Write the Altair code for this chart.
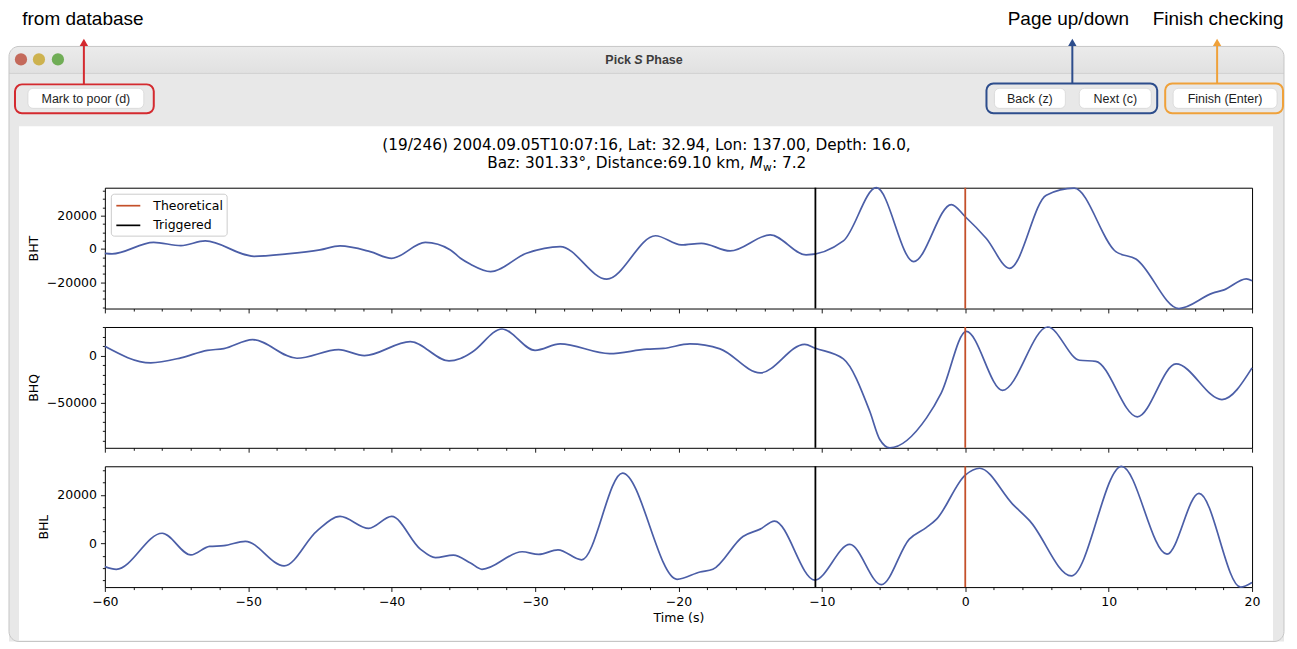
import altair as alt
import pandas as pd

# ---------------- data ----------------
BHT_T = [-60.0, -59.5, -56.6, -54.7, -53.0, -49.6, -47.3, -45.0, -43.6, -41.5, -40.0, -37.65, -35.9, -35.2,
         -34.5, -33.1, -30.6, -28.25, -25.0, -21.6, -19.8, -18.4, -16.4, -13.6, -11.1, -8.5, -6.2, -3.6,
         -0.97, 0.0, 1.47, 3.1, 5.65, 7.6, 10.5, 11.9, 14.9, 17.25, 18.05, 19.6, 20.0]
BHT_V = [-2600, -2900, 3900, 2000, 4800, -4400, -3000, -600, 1800, -1600, -5600, 3900, -600, -5600,
         -9200, -13600, -2600, 1400, -18100, 7900, 2400, 3400, -1200, 8400, -3600, 4800, 36700, -7600,
         26600, 19300, 6300, -11600, 32200, 36400, -1600, -6000, -35700, -26500, -24500, -17900, -19100]

BHQ_T = [-60.0, -56.8, -54.7, -52.85, -51.7, -49.7, -46.6, -43.7, -41.9, -38.7, -36.0, -35.2, -34.4,
         -32.3, -30.0, -28.25, -24.8, -22.2, -21.05, -19.2, -17.1, -14.3, -11.2, -10.45, -8.5, -6.66,
         -5.96, -5.26, -2.7, -1.67, 0.07, 2.6, 5.75, 7.97, 9.1, 12.0, 14.7, 17.9, 20.0]
BHQ_V = [9800, -7700, -2400, 5600, 7400, 16900, -2800, 6300, 0, 14800, -5600, -3000, 3500,
         28200, 5600, 12400, 2100, 6800, 7600, 12400, 7100, -18300, 12000, 7800, -3500, -58900,
         -88800, -97600, -65900, -39400, 25700, -36700, 30300, -4900, -6000, -64800, -8800, -46500, -13000]

BHL_T = [-60.0, -59.2, -56.0, -54.0, -52.7, -51.7, -50.2, -47.5, -45.2, -43.6, -41.6, -40.0, -38.0,
         -36.95, -35.7, -34.5, -33.7, -30.9, -29.75, -28.4, -26.75, -23.9, -20.1, -18.5, -17.6, -15.5,
         -14.3, -13.3, -10.5, -8.05, -5.85, -3.9, -2.7, -2.0, 0.0, 1.0, 3.3, 4.5, 7.4, 10.9, 14.07,
         16.3, 19.2, 20.0]
BHL_V = [-9500, -10600, 4200, -4700, -1200, -900, 900, -9200, 5200, 11100, 6200, 11100, -2300,
         -5800, -4800, -8000, -10600, -3400, -4500, -2600, -6700, 28900, -14700, -11700, -10600, 2900,
         5900, 9200, -15000, -400, -16900, 1800, 6600, 10000, 28100, 30900, 16200, 9300, -13300, 31700,
         -4400, 20600, -17900, -16000]

PICK_NAMES = ["Theoretical", "Triggered"]
PICK_TIMES = [0.0, -10.45]
X_TICKS = list(range(-60, 21, 2))

TITLE_1 = "(19/246) 2004.09.05T10:07:16, Lat: 32.94, Lon: 137.00, Depth: 16.0,"
TITLE_2 = "Baz: 301.33°, Distance:69.10 km,"

# ---------------- style ----------------
W, H = 1149, 121
HEAD_H = 159.5
OX, OY = 104, 8          # page position of the plot-area origin
BLUE = "#4b5ea7"
RED = "#c4502a"
FONT = "DejaVu Sans"
UI = "Liberation Sans"
ONE = alt.Data(values=[{"k": 0}])


def hx(p):
    return p - OX


def hy(p):
    return p - OY


def box(x1, y1, x2, y2, **mk):
    return alt.Chart(ONE).mark_rect(**mk).encode(
        x=alt.value(hx(x1)), x2=alt.value(hx(x2)), y=alt.value(hy(y1)), y2=alt.value(hy(y2)))


def txt(x, y, s, **mk):
    return alt.Chart(ONE).mark_text(text=s, **mk).encode(x=alt.value(hx(x)), y=alt.value(hy(y)))


def vline(x, y1, y2, color, width=2):
    return alt.Chart(ONE).mark_rule(color=color, strokeWidth=width).encode(
        x=alt.value(hx(x)), y=alt.value(hy(y1)), y2=alt.value(hy(y2)))


def hline(x1, x2, y, color, width=1):
    return alt.Chart(ONE).mark_rule(color=color, strokeWidth=width).encode(
        x=alt.value(hx(x1)), x2=alt.value(hx(x2)), y=alt.value(hy(y)))


def dot(x, y, color, size, shape="circle"):
    return alt.Chart(ONE).mark_point(filled=True, shape=shape, size=size, color=color, opacity=1).encode(
        x=alt.value(hx(x)), y=alt.value(hy(y)))


def button(x1, x2, label):
    return [box(x1, 87, x2, 107, color="white", stroke="#cfcfcf", strokeWidth=0.6, cornerRadius=5),
            txt((x1 + x2) / 2, 97.5, label, font=UI, fontSize=12.5, color="#1e1e1e")]


grad = alt.LinearGradient(gradient="linear", x1=0, x2=0, y1=0, y2=1,
                          stops=[alt.GradientStop(color="#ebebeb", offset=0),
                                 alt.GradientStop(color="#dadada", offset=1)])

header_layers = [
    box(8, 8, 1289, 641, color="white"),
    box(8, 45, 1285, 90, color=grad, cornerRadius=10),
    box(8, 72, 1285, 641, color="#e8e8e8"),
    hline(8, 1285, 72, "#d2d2d2", 1),
    box(18, 125, 1274, 640, color="white"),
    box(8, 45, 1285, 641, filled=False, color="#c6c6c6", strokeWidth=1, cornerRadius=10),
    dot(20, 58, "#c46a5b", 150),
    dot(38, 58, "#cdb24f", 150),
    dot(57, 58, "#70ad56", 150),
    txt(631, 58.5, "Pick", font=UI, fontSize=12.5, fontWeight="bold", align="right", color="#3c3c3c"),
    txt(638.5, 58.5, "S", font=UI, fontSize=12.5, fontWeight="bold", fontStyle="italic", color="#3c3c3c"),
    txt(646, 58.5, "Phase", font=UI, fontSize=12.5, fontWeight="bold", align="left", color="#3c3c3c"),
]
header_layers += button(27, 143, "Mark to poor (d)")
header_layers += button(995, 1066, "Back (z)")
header_layers += button(1080, 1152, "Next (c)")
header_layers += button(1174, 1278, "Finish (Enter)")
header_layers += [
    box(14, 83, 153, 112, filled=False, color="#d42a2f", strokeWidth=2, cornerRadius=7),
    box(987, 82, 1158, 112, filled=False, color="#2d4d8c", strokeWidth=2, cornerRadius=7),
    box(1166, 82, 1284, 112, filled=False, color="#efa13a", strokeWidth=2, cornerRadius=7),
    vline(83, 43, 83, "#d42a2f"),
    vline(1073, 43, 82, "#2d4d8c"),
    vline(1218, 43, 82, "#efa13a"),
    dot(83, 41, "#d42a2f", 70, "triangle-up"),
    dot(1073, 41, "#2d4d8c", 70, "triangle-up"),
    dot(1218, 41, "#efa13a", 70, "triangle-up"),
    txt(82, 18, "from database", font=UI, fontSize=19, color="black"),
    txt(1069, 18, "Page up/down", font=UI, fontSize=19, color="black"),
    txt(1219, 18, "Finish checking", font=UI, fontSize=19, color="black"),
    txt(646.5, 148.5, TITLE_1, font=FONT, fontSize=15.3, baseline="alphabetic", color="black"),
    txt(487, 166.5, TITLE_2, font=FONT, fontSize=15.3, baseline="alphabetic", align="left", color="black"),
    txt(750, 166.5, "M", font=FONT, fontSize=15.3, fontStyle="italic", baseline="alphabetic",
        align="left", color="black"),
    txt(763.3, 170, "w", font=FONT, fontSize=10.7, baseline="alphabetic", align="left", color="black"),
    txt(772.2, 166.5, ": 7.2", font=FONT, fontSize=15.3, baseline="alphabetic", align="left", color="black"),
]
header = alt.layer(*header_layers).properties(width=W, height=HEAD_H)


def tick_size(test):
    return {"condition": {"test": test, "value": 4.4}, "value": 2.5}


def panel(name, ts, vs, lo, hi, minor, major, legend, bottom):
    df = pd.DataFrame({"t": ts, "v": vs})
    first = -((-lo) // minor) * minor
    yvals = list(range(int(first), int(hi) + 1, minor))
    xaxis = alt.Axis(values=X_TICKS, tickSize=tick_size("datum.value % 10 === 0"),
                     labelExpr="datum.value % 10 === 0 ? datum.label : ''", labels=bottom,
                     format="d", labelFlush=False, labelOverlap=False, domain=False, grid=False,
                     tickColor="black", tickWidth=0.9, labelFont=FONT, labelFontSize=12.5,
                     labelColor="black", labelPadding=4,
                     title="Time (s)" if bottom else None, titleFont=FONT, titleFontSize=12.5,
                     titleFontWeight="normal", titleColor="black", titlePadding=4)
    yaxis = alt.Axis(values=yvals, tickSize=tick_size(f"datum.value % {major} === 0"),
                     labelExpr=f"datum.value % {major} === 0 ? datum.label : ''",
                     format="d", labelFlush=False, labelOverlap=False, domain=False, grid=False,
                     tickColor="black", tickWidth=0.9, labelFont=FONT, labelFontSize=12.5,
                     labelColor="black", labelPadding=4,
                     title=name, titleFont=FONT, titleFontSize=12.5, titleFontWeight="normal",
                     titleColor="black", titlePadding=6)
    xs = alt.Scale(domain=[-60, 20], nice=False, zero=False)
    line = alt.Chart(df).mark_line(color=BLUE, strokeWidth=1.7, interpolate="monotone").encode(
        x=alt.X("t:Q", scale=xs, axis=xaxis),
        y=alt.Y("v:Q", scale=alt.Scale(domain=[lo, hi], nice=False, zero=False), axis=yaxis))
    if legend:
        leg = alt.Legend(title=None, orient="top-left", offset=6, fillColor="white",
                         strokeColor="#cccccc", cornerRadius=3, padding=3,
                         symbolType="M-1.5,0L1.5,0", symbolSize=256, symbolStrokeWidth=1.7,
                         symbolOffset=5.5, labelOffset=16, labelFont=FONT, labelFontSize=12.5,
                         labelColor="black", rowPadding=3.7)
    else:
        leg = None
    pdf = pd.DataFrame({"pick": PICK_NAMES, "t": PICK_TIMES})
    rules = alt.Chart(pdf).mark_rule(strokeWidth=1.8).encode(
        x=alt.X("t:Q", scale=xs, axis=xaxis),
        color=alt.Color("pick:N", scale=alt.Scale(domain=PICK_NAMES, range=[RED, "black"]), legend=leg))
    return alt.layer(line, rules).properties(
        width=W, height=H, view=alt.ViewBackground(stroke="black", strokeWidth=1))


p1 = panel("BHT", BHT_T, BHT_V, -35700, 36700, 5000, 20000, True, False)
p2 = panel("BHQ", BHQ_T, BHQ_V, -97600, 30300, 10000, 50000, False, False)
p3 = panel("BHL", BHL_T, BHL_V, -17900, 31700, 5000, 20000, False, True)

chart = alt.vconcat(header, p1, p2, p3, spacing=18.5, bounds="flush").resolve_scale(
    color="independent").properties(padding=0).configure(background="white").configure_view(
    stroke="transparent")

chart.save("out.html", embed_options={"renderer": "svg", "actions": False})
